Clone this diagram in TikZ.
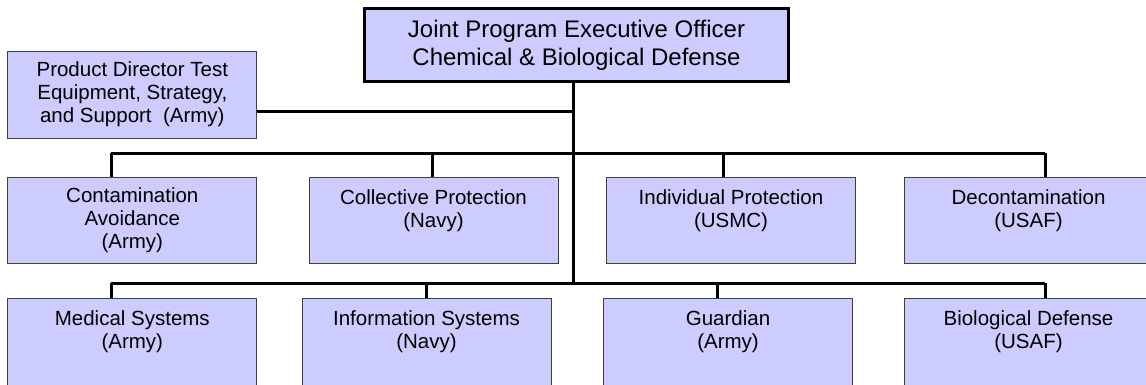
\documentclass[tikz,border=0pt]{standalone}
\usepackage{fontspec}
\setmainfont{Liberation Sans}
\definecolor{boxfill}{HTML}{CCCCFF}
\newcommand{\lowpad}{\rule[-6pt]{0pt}{6pt}}
\begin{document}
\begin{tikzpicture}[x=1pt,y=-1pt,
  box/.style={draw=black!75, line width=0.8pt, fill=boxfill, minimum width=249pt, minimum height=86pt, inner sep=0pt, align=center, font=\fontsize{20.5}{23}\selectfont},
  lowbox/.style={box, minimum height=92pt},
  topbox/.style={draw=black, line width=3pt, fill=boxfill, minimum width=424pt, minimum height=73pt, inner sep=0pt, align=center, font=\fontsize{24}{28}\selectfont},
  conn/.style={line width=3pt}]
\useasboundingbox (0,0) rectangle (1146,384);
\clip (0,0) rectangle (1146,384);

\node[topbox] (jpeo) at (576.5,45) {Joint Program Executive Officer\\Chemical \& Biological Defense};
\node[box, minimum height=87pt] (pd) at (132.3,94.5) {Product Director Test\\Equipment, Strategy,\\and Support\ \ (Army)};

\node[box] (a1) at (132.3,220) {Contamination\\Avoidance\\(Army)};
\node[box] (a2) at (433.5,220) {Collective Protection\\(Navy)\\\mbox{}};
\node[box] (a3) at (731,220) {Individual Protection\\(USMC)\\\mbox{}};
\node[box] (a4) at (1028.5,220) {Decontamination\\(USAF)\\\mbox{}};

\node[lowbox] (b1) at (132.3,344) {Medical Systems\\(Army)\\\lowpad};
\node[lowbox] (b2) at (426.5,344) {Information Systems\\(Navy)\\\lowpad};
\node[lowbox] (b3) at (728,344) {Guardian\\(Army)\\\lowpad};
\node[lowbox] (b4) at (1028.5,344) {Biological Defense\\(USAF)\\\lowpad};

% junction coordinates
\coordinate (t1) at (573,111);
\coordinate (t3) at (573,283);
\coordinate (r1a) at (111,153);
\coordinate (r1b) at (432,153);
\coordinate (r1c) at (723,153);
\coordinate (r1d) at (1045,153);
\coordinate (r2a) at (111,283);
\coordinate (r2b) at (426,283);
\coordinate (r2c) at (717,283);
\coordinate (r2d) at (1045,283);

\draw[conn] (jpeo.south -| t3) -- (t3);
\draw[conn] (pd.east |- t1) -- (t1);
\draw[conn] (r1a) -- (r1d);
\draw[conn] (r2a) -- (r2d);
\draw[conn] (r1a) -- (r1a |- a1.north);
\draw[conn] (r1b) -- (r1b |- a2.north);
\draw[conn] (r1c) -- (r1c |- a3.north);
\draw[conn] (r1d) -- (r1d |- a4.north);
\draw[conn] (r2a) -- (r2a |- b1.north);
\draw[conn] (r2b) -- (r2b |- b2.north);
\draw[conn] (r2c) -- (r2c |- b3.north);
\draw[conn] (r2d) -- (r2d |- b4.north);
\end{tikzpicture}
\end{document}
